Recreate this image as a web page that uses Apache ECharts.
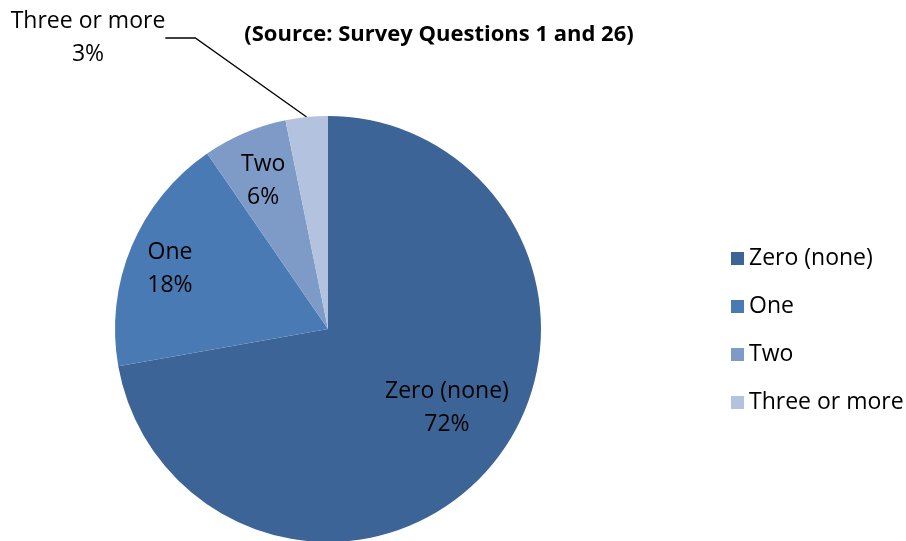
<!DOCTYPE html>
<html>
<head>
<meta charset="utf-8">
<script src="https://cdn.jsdelivr.net/npm/echarts@6/dist/echarts.min.js"></script>
<style>
  html, body { margin: 0; padding: 0; background: #fff; }
  #chart { width: 906px; height: 541px; }
</style>
</head>
<body>
<div id="chart"></div>
<script>
var categories = ['Zero (none)', 'One', 'Two', 'Three or more'];
var values = [72.2, 18.2, 6.4, 3.2];
var shownPercent = ['72%', '18%', '6%', '3%'];
var colors = ['#3d6496', '#4a7ab4', '#7e9bc8', '#b3c3df'];

var font = '"Open Sans", "Liberation Sans", sans-serif';

var chart = echarts.init(document.getElementById('chart'));

var data = [];
for (var i = 0; i < categories.length; i++) {
    data.push({
        name: categories[i],
        value: values[i],
        itemStyle: { color: colors[i] }
    });
}
// last slice gets its label outside with a leader line
data[3].label = { position: 'outside' };
data[3].labelLine = { show: true };

// nudges so the inside labels sit where the original put them
var labelShift = [[35, 9], [-57, -18], [-22, -47]];

option = {
    animation: false,
    title: {
        text: '(Source: Survey Questions 1 and 26)',
        left: 434,
        top: 19,
        textAlign: 'center',
        textStyle: { fontFamily: font, fontSize: 22, fontWeight: 'bold', color: '#000' }
    },
    legend: {
        orient: 'vertical',
        left: 726,
        top: 242,
        itemWidth: 13,
        itemHeight: 13,
        itemGap: 25,
        icon: 'rect',
        textStyle: { fontFamily: font, fontSize: 23, color: '#000' },
        data: categories
    },
    series: [{
        type: 'pie',
        center: [328, 329],
        radius: 213,
        startAngle: 90,
        clockwise: true,
        data: data,
        label: {
            position: 'inside',
            fontFamily: font,
            fontSize: 23,
            color: '#000',
            lineHeight: 33,
            align: 'center',
            formatter: function (p) {
                return p.name + '\n' + shownPercent[p.dataIndex];
            }
        },
        labelLine: { show: false, lineStyle: { color: '#000', width: 1.3 } },
        labelLayout: function (params) {
            if (params.dataIndex === 3) {
                return { x: 88, y: 38, align: 'center', verticalAlign: 'middle', moveOverlap: false };
            }
            return { dx: labelShift[params.dataIndex][0], dy: labelShift[params.dataIndex][1] };
        }
    }]
};
chart.setOption(option);
</script>
</body>
</html>
